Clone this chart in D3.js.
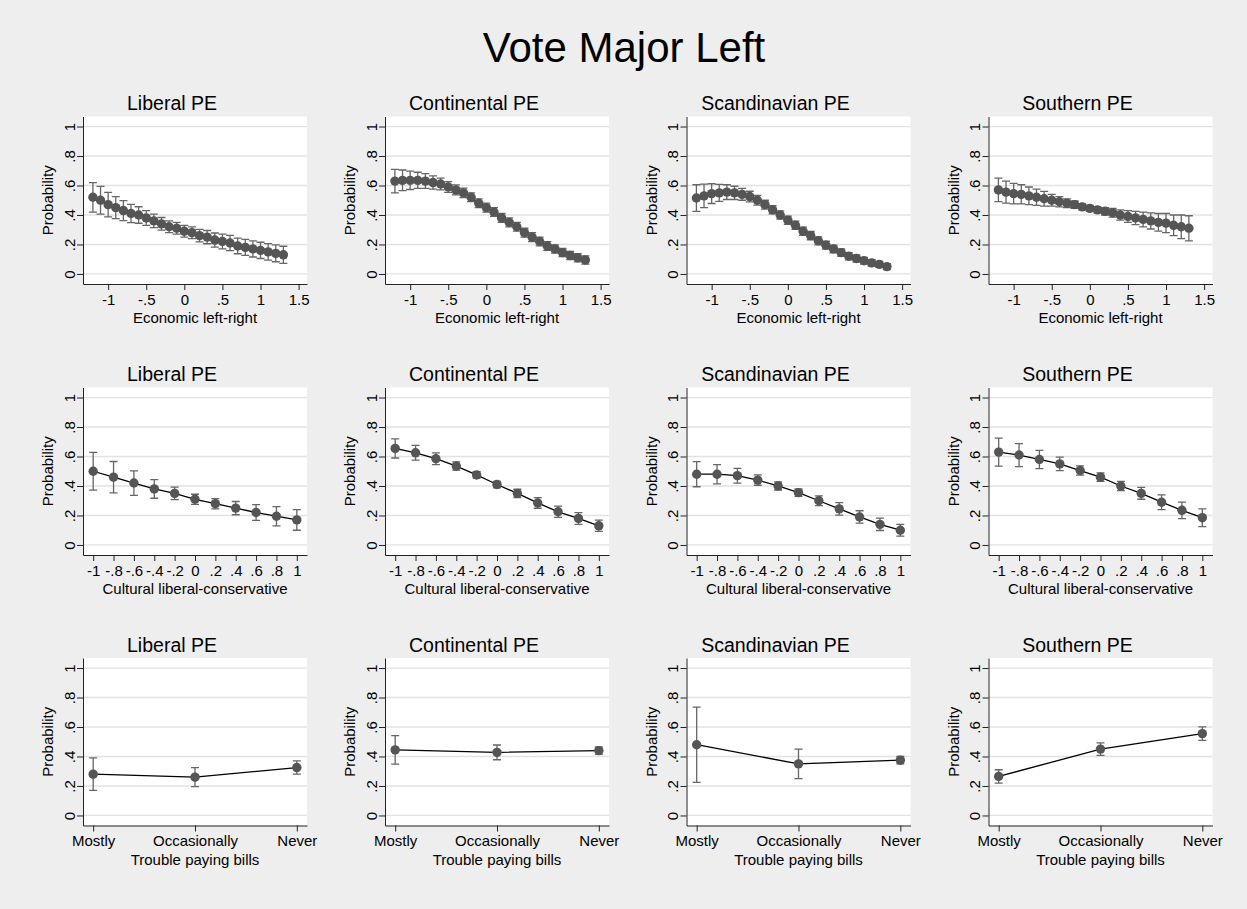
<!DOCTYPE html>
<html>
<head>
<meta charset="utf-8">
<script src="https://cdn.jsdelivr.net/npm/d3@7"></script>
<style>
  body { margin: 0; background: #eeeeee; }
  svg { display: block; }
</style>
</head>
<body>
<div id="chart"></div>
<script>
const FONT = '"Liberation Sans", Arial, Helvetica, sans-serif';

const regimes = ["Liberal PE", "Continental PE", "Scandinavian PE", "Southern PE"];

// y axis, shared by all panels
const yTicks = [0, 0.2, 0.4, 0.6, 0.8, 1];
const yTickLabels = ["0", ".2", ".4", ".6", ".8", "1"];

// row 1: economic left-right
const econX = [-1.2, -1.1, -1.0, -0.9, -0.8, -0.7, -0.6, -0.5, -0.4, -0.3, -0.2, -0.1, 0,
               0.1, 0.2, 0.3, 0.4, 0.5, 0.6, 0.7, 0.8, 0.9, 1.0, 1.1, 1.2, 1.3];
const econTicks = [-1, -0.5, 0, 0.5, 1, 1.5];
const econTickLabels = ["-1", "-.5", "0", ".5", "1", "1.5"];

const econLib   = [.52, .50, .47, .45, .43, .41, .40, .38, .36, .34, .32, .31, .29,
                   .28, .26, .25, .23, .22, .21, .19, .18, .17, .16, .15, .14, .13];
const econLibCI = [.10, .094, .083, .075, .068, .062, .056, .05, .046, .043, .04, .04, .04,
                   .04, .042, .045, .048, .05, .052, .053, .054, .055, .055, .056, .057, .058];
const econCon   = [.63, .635, .635, .635, .63, .62, .61, .59, .57, .55, .52, .48, .45,
                   .42, .38, .35, .32, .28, .25, .22, .19, .17, .145, .125, .11, .095];
const econConCI = [.08, .07, .062, .055, .05, .045, .04, .036, .034, .032, .03, .03, .03,
                   .03, .03, .03, .03, .03, .03, .03, .03, .028, .028, .028, .028, .028];
const econSca   = [.515, .53, .545, .55, .555, .55, .54, .525, .50, .47, .435, .40, .365,
                   .33, .29, .26, .225, .195, .17, .145, .12, .105, .09, .075, .065, .05];
const econScaCI = [.09, .08, .067, .057, .05, .045, .04, .036, .033, .03, .028, .028, .028,
                   .028, .028, .028, .027, .027, .026, .025, .025, .024, .023, .022, .02, .02];
const econSou   = [.57, .555, .545, .54, .53, .52, .51, .50, .49, .48, .47, .455, .445,
                   .435, .425, .415, .40, .39, .38, .37, .36, .35, .345, .33, .32, .31];
const econSouCI = [.08, .075, .07, .065, .06, .055, .05, .04, .035, .03, .025, .02, .02,
                   .02, .025, .03, .035, .04, .045, .05, .055, .06, .065, .07, .08, .085];

// row 2: cultural liberal-conservative
const cultX = [-1, -0.8, -0.6, -0.4, -0.2, 0, 0.2, 0.4, 0.6, 0.8, 1];
const cultTickLabels = ["-1", "-.8", "-.6", "-.4", "-.2", "0", ".2", ".4", ".6", ".8", "1"];

const cultLib   = [.50, .46, .42, .38, .35, .31, .28, .25, .22, .195, .17];
const cultLibCI = [.128, .106, .083, .063, .043, .034, .035, .045, .053, .065, .07];
const cultCon   = [.655, .625, .585, .535, .475, .41, .35, .285, .225, .18, .13];
const cultConCI = [.065, .05, .04, .028, .022, .022, .028, .036, .038, .04, .038];
const cultSca   = [.48, .48, .47, .44, .40, .355, .30, .245, .19, .14, .10];
const cultScaCI = [.085, .065, .05, .035, .027, .026, .033, .042, .042, .042, .04];
const cultSou   = [.63, .61, .58, .55, .505, .46, .40, .35, .29, .235, .185];
const cultSouCI = [.095, .078, .062, .046, .031, .029, .031, .04, .05, .056, .06];

// row 3: trouble paying bills
const billsCats = ["Mostly", "Occasionally", "Never"];
const billsX = [1, 2, 3];

const billsLib   = [.28, .26, .325];
const billsLibCI = [.11, .065, .045];
const billsCon   = [.445, .428, .44];
const billsConCI = [.097, .05, .025];
const billsSca   = [.48, .35, .375];
const billsScaCI = [.255, .10, .025];
const billsSou   = [.265, .45, .555];
const billsSouCI = [.045, .043, .046];

const rows = [
  { title: "Economic left-right", xs: econX, domain: [-1.33, 1.61],
    ticks: econTicks, labels: econTickLabels,
    p: [econLib, econCon, econSca, econSou], ci: [econLibCI, econConCI, econScaCI, econSouCI] },
  { title: "Cultural liberal-conservative", xs: cultX, domain: [-1.1, 1.1],
    ticks: cultX, labels: cultTickLabels,
    p: [cultLib, cultCon, cultSca, cultSou], ci: [cultLibCI, cultConCI, cultScaCI, cultSouCI] },
  { title: "Trouble paying bills", xs: billsX, domain: [0.9, 3.1],
    ticks: billsX, labels: billsCats,
    p: [billsLib, billsCon, billsSca, billsSou], ci: [billsLibCI, billsConCI, billsScaCI, billsSouCI] }
];

const W = 1247, H = 909;
const colLeft = [83, 385, 686.5, 988.5];
const rowTop = [116.5, 387.5, 658];
const pw = 224, ph = 167.5;

const svg = d3.select("#chart").append("svg")
  .attr("width", W).attr("height", H)
  .style("font-family", FONT);

svg.append("rect").attr("width", W).attr("height", H).attr("fill", "#eeeeee");

svg.append("text")
  .attr("x", 624).attr("y", 62)
  .attr("text-anchor", "middle")
  .attr("font-size", 42)
  .attr("fill", "#000")
  .text("Vote Major Left");

rows.forEach((row, r) => {
  regimes.forEach((name, c) => {
    const g = svg.append("g").attr("transform", `translate(${colLeft[c]},${rowTop[r]})`);
    const x = d3.scaleLinear().domain(row.domain).range([0, pw]);
    const y = d3.scaleLinear().domain([-0.068, 1.068]).range([ph, 0]);

    g.append("rect").attr("width", pw).attr("height", ph).attr("fill", "#fff");

    g.selectAll(".grid").data(yTicks).join("line")
      .attr("class", "grid")
      .attr("x1", 0).attr("x2", pw)
      .attr("y1", d => y(d)).attr("y2", d => y(d))
      .attr("stroke", "#e2e2e2").attr("stroke-width", 1.3);

    // y axis
    const ya = g.append("g")
      .call(d3.axisLeft(y).tickValues(yTicks).tickSize(6).tickSizeOuter(0)
        .tickFormat((d, i) => yTickLabels[i]));
    ya.attr("font-family", null).attr("font-size", null);
    ya.select(".domain").attr("stroke", "#222");
    ya.selectAll(".tick line").attr("stroke", "#222");
    ya.selectAll(".tick text")
      .attr("transform", "rotate(-90)")
      .attr("x", 0).attr("y", -8.5).attr("dy", null)
      .attr("text-anchor", "middle")
      .attr("font-size", 15).attr("fill", "#000");

    // x axis
    const xa = g.append("g").attr("transform", `translate(0,${ph})`)
      .call(d3.axisBottom(x).tickValues(row.ticks).tickSize(6).tickSizeOuter(0)
        .tickFormat((d, i) => row.labels[i]));
    xa.attr("font-family", null).attr("font-size", null);
    xa.select(".domain").attr("stroke", "#222");
    xa.selectAll(".tick line").attr("stroke", "#222");
    xa.selectAll(".tick text")
      .attr("y", 10).attr("font-size", 15).attr("fill", "#000");

    // titles
    g.append("text")
      .attr("x", 89).attr("y", -6.5)
      .attr("text-anchor", "middle").attr("font-size", 19.5).attr("fill", "#000")
      .text(name);
    g.append("text")
      .attr("transform", `translate(-30,${ph / 2}) rotate(-90)`)
      .attr("text-anchor", "middle").attr("font-size", 15).attr("fill", "#000")
      .text("Probability");
    g.append("text")
      .attr("x", pw / 2).attr("y", ph + 39)
      .attr("text-anchor", "middle").attr("font-size", 15).attr("fill", "#000")
      .text(row.title);

    const pts = row.xs.map((xv, i) => ({ x: xv, p: row.p[c][i], h: row.ci[c][i] }));

    // confidence intervals
    const cap = 4;
    const ci = g.append("g").attr("stroke", "#666").attr("stroke-width", 1.3).attr("fill", "none");
    ci.selectAll("path").data(pts).join("path")
      .attr("d", d => {
        const cx = x(d.x), y0 = y(d.p - d.h), y1 = y(d.p + d.h);
        return `M${cx - cap},${y1}H${cx + cap}M${cx},${y1}V${y0}M${cx - cap},${y0}H${cx + cap}`;
      });

    // predicted line
    g.append("path").datum(pts)
      .attr("fill", "none").attr("stroke", "#000").attr("stroke-width", 1.3)
      .attr("d", d3.line().x(d => x(d.x)).y(d => y(d.p)));

    // markers
    g.selectAll("circle").data(pts).join("circle")
      .attr("cx", d => x(d.x)).attr("cy", d => y(d.p))
      .attr("r", 4.7).attr("fill", "#555");
  });
});
</script>
</body>
</html>
